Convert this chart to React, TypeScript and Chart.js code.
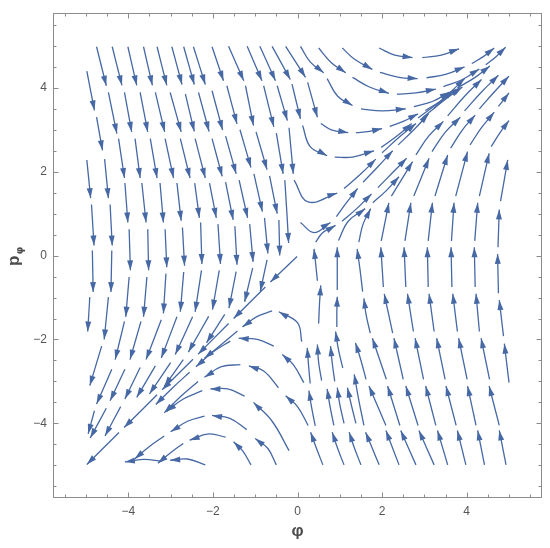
import React, { useEffect, useRef } from "react";
import { Chart, registerables } from "chart.js";

Chart.register(...registerables);

const AXIS_MIN = -5.78;
const AXIS_MAX = 5.78;
const X_TICKS = [-4, -2, 0, 2, 4];
const Y_TICKS = [-4, -2, 0, 2, 4];
const X_TITLE = "φ";
const Y_TITLE = "p";
const Y_TITLE_SUB = "φ";

// Each segment: [x0, y0, x1, y1, (x2, y2)] — arrow head at the last point.
const topLeftSegs: number[][] = [
  [-4.98, 4.4, -4.8, 3.46], [-4.75, 3.3, -4.61, 2.51], [-4.56, 2.3, -4.47, 1.37], [-4.43, 1.22, -4.38, 0.24], [-4.39, 0.12, -4.41, -0.87], [-4.47, -0.99, -4.57, -2.0],
  [-4.98, 2.28, -4.89, 1.37], [-4.87, 1.22, -4.81, 0.24], [-4.85, 0.12, -4.83, -0.87], [-4.91, -0.99, -4.96, -1.81],
  [-4.75, 4.98, -4.52, 4.05], [-4.47, 3.89, -4.27, 2.91], [-4.23, 2.79, -4.09, 1.85], [-4.08, 1.73, -4.01, 0.79], [-3.98, 0.63, -3.95, -0.35], [-3.98, -0.51, -4.06, -1.46],
  [-4.38, 4.98, -4.15, 4.06], [-4.09, 3.89, -3.92, 2.95], [-3.84, 2.79, -3.72, 1.85], [-3.68, 1.73, -3.58, 0.79], [-3.54, 0.63, -3.52, -0.35], [-3.56, -0.51, -3.64, -1.46],
  [-4.01, 4.98, -3.8, 4.06], [-3.72, 3.89, -3.54, 2.95], [-3.48, 2.79, -3.32, 1.85], [-3.25, 1.73, -3.17, 0.79], [-3.13, 0.63, -3.09, -0.28], [-3.11, -0.43, -3.17, -1.38],
  [-3.64, 4.98, -3.43, 4.06], [-3.36, 3.89, -3.14, 2.95], [-3.13, 2.79, -2.93, 1.85], [-2.85, 1.73, -2.75, 0.83], [-2.72, 0.67, -2.67, -0.24], [-2.69, -0.39, -2.77, -1.34],
  [-3.32, 4.98, -3.09, 4.06], [-3.01, 3.89, -2.75, 2.95], [-2.77, 2.79, -2.54, 1.85], [-2.43, 1.73, -2.32, 0.9], [-2.29, 0.79, -2.26, -0.2], [-2.27, -0.35, -2.42, -1.34],
  [-2.97, 4.98, -2.73, 4.08], [-2.65, 3.85, -2.44, 2.96], [-2.42, 2.79, -2.18, 1.85], [-2.08, 1.73, -1.92, 0.9], [-1.88, 0.75, -1.82, -0.2], [-1.85, -0.35, -2.01, -1.29],
  [-2.69, 4.98, -2.44, 4.08], [-2.34, 3.89, -2.09, 2.96], [-2.02, 2.79, -1.78, 1.89], [-1.7, 1.75, -1.52, 0.85], [-1.48, 0.7, -1.43, -0.22], [-1.45, -0.38, -1.62, -1.25],
  [-2.46, 4.98, -2.18, 4.08], [-2.02, 3.93, -1.77, 2.99], [-1.7, 2.85, -1.45, 1.95], [-1.38, 1.8, -1.18, 0.9], [-1.13, 0.75, -1.05, -0.15], [-1.06, -0.3, -1.25, -1.1],
  [-2.02, 4.98, -1.75, 4.17], [-1.67, 4.05, -1.43, 3.14], [-1.36, 3.0, -1.1, 2.1], [-1.03, 1.95, -0.83, 1.05], [-0.78, 0.9, -0.7, 0.05], [-0.72, -0.1, -0.88, -0.85],
];

const topMidSegs: number[][] = [
  [-1.63, 4.99, -1.27, 4.17], [-1.23, 4.05, -1.04, 3.1], [-0.98, 2.95, -0.72, 2.05], [-0.66, 1.9, -0.48, 1.0], [-0.44, 0.85, -0.42, 0.0],
  [-1.19, 4.99, -0.84, 4.17], [-0.8, 4.05, -0.56, 3.07], [-0.5, 2.92, -0.34, 1.95], [-0.3, 1.8, -0.25, 1.0, -0.21, 0.3],
  [-0.89, 4.99, -0.52, 4.17], [-0.48, 4.05, -0.24, 3.22], [-0.2, 3.05, -0.1, 1.95], [-0.08, 1.8, 0.25, 1.28, 0.94, 1.49],
  [1.1, 1.6, 1.5, 1.95, 1.85, 2.3], [2.0, 2.45, 2.4, 2.82, 2.8, 3.15], [2.95, 3.28, 3.4, 3.65, 3.85, 4.0],
  [-0.6, 4.99, -0.17, 4.2], [-0.13, 4.09, 0.07, 3.26], [0.12, 3.1, 0.3, 2.6, 0.7, 2.38], [0.88, 2.35, 1.3, 2.35, 1.81, 2.5],
  [1.98, 2.58, 2.35, 2.85, 2.7, 3.15], [2.85, 3.28, 3.3, 3.62, 3.7, 3.95],
  [-0.28, 4.99, 0.19, 4.25], [0.24, 4.13, 0.47, 3.3], [0.55, 3.15, 0.8, 3.0, 1.2, 2.93], [1.38, 2.93, 1.7, 2.96, 2.0, 3.03],
  [2.18, 3.08, 2.5, 3.2, 2.85, 3.38], [3.02, 3.46, 3.45, 3.72, 3.9, 4.02],
];

const topRightSegs: number[][] = [
  [0.07, 4.99, 0.3, 4.62, 0.62, 4.36], [0.7, 4.22, 0.95, 3.8, 1.3, 3.58], [1.5, 3.5, 2.0, 3.45, 2.56, 3.5],
  [2.75, 3.55, 3.2, 3.68, 3.6, 3.9], [3.78, 4.0, 4.2, 4.25, 4.55, 4.52],
  [0.5, 4.95, 0.8, 4.6, 1.14, 4.36], [1.3, 4.25, 1.7, 4.02, 2.16, 3.87], [2.35, 3.85, 2.8, 3.88, 3.27, 3.97],
  [3.45, 4.03, 3.9, 4.2, 4.3, 4.45], [4.45, 4.55, 4.7, 4.75, 4.92, 4.97],
  [1.06, 4.95, 1.35, 4.68, 1.77, 4.44], [1.95, 4.37, 2.4, 4.25, 2.84, 4.22], [3.05, 4.24, 3.5, 4.32, 3.95, 4.5], [4.12, 4.58, 4.4, 4.75, 4.65, 4.95],
  [1.93, 4.95, 2.3, 4.78, 2.72, 4.72], [2.95, 4.72, 3.4, 4.78, 3.82, 4.93],
  [2.8, 2.4, 3.1, 2.85, 3.45, 3.2], [3.55, 3.33, 3.95, 3.8, 4.35, 4.2],
  [3.18, 2.48, 3.5, 2.95, 3.85, 3.3], [3.95, 3.45, 4.35, 3.9, 4.75, 4.3],
  [3.62, 2.56, 3.9, 3.0, 4.2, 3.35], [4.3, 3.5, 4.65, 3.9, 5.0, 4.28],
  [4.08, 2.64, 4.35, 3.05, 4.65, 3.42], [4.75, 3.56, 4.9, 3.75, 5.0, 3.88],
  [4.58, 2.6, 4.8, 2.95, 5.0, 3.22],
];

const rightSegs: number[][] = [
  [2.25, -1.85, 2.05, -0.91], [2.03, -0.75, 1.97, 0.2], [1.98, 0.35, 2.16, 1.26], [2.22, 1.42, 2.72, 2.24],
  [2.74, -1.81, 2.6, -0.91], [2.56, -0.75, 2.52, 0.2], [2.54, 0.35, 2.68, 1.26], [2.75, 1.42, 3.11, 2.32],
  [3.23, -1.81, 3.11, -0.91], [3.09, -0.75, 3.07, 0.2], [3.09, 0.35, 3.19, 1.26], [3.25, 1.42, 3.55, 2.4],
  [3.78, -1.81, 3.67, -0.91], [3.65, -0.75, 3.63, 0.2], [3.64, 0.35, 3.7, 1.26], [3.74, 1.42, 4.02, 2.48],
  [4.3, -1.81, 4.22, -0.91], [4.2, -0.75, 4.18, 0.2], [4.19, 0.35, 4.26, 1.26], [4.3, 1.42, 4.53, 2.44],
  [5.0, -3.03, 4.89, -2.1], [4.87, -1.92, 4.77, -1.06], [4.75, -0.9, 4.73, 0.04], [4.74, 0.2, 4.77, 1.1], [4.8, 1.3, 4.97, 2.28],
];

const bottomRightSegs: number[][] = [
  [1.93, -4.99, 1.77, -4.6, 1.61, -4.21], [1.57, -4.05, 1.45, -3.45, 1.34, -2.83],
  [2.4, -4.99, 2.09, -4.17], [2.09, -4.05, 1.69, -3.11], [1.62, -2.95, 1.5, -2.5, 1.37, -2.08],
  [2.8, -4.99, 2.44, -4.17], [2.42, -4.05, 2.13, -3.11], [2.1, -2.95, 1.77, -1.97],
  [1.72, -1.85, 1.62, -1.4, 1.57, -1.02], [1.54, -0.86, 1.48, -0.35, 1.41, 0.16], [1.45, 0.32, 1.55, 0.75, 1.73, 1.12],
  [3.23, -4.99, 2.87, -4.17], [2.85, -4.05, 2.56, -3.11], [2.5, -2.95, 2.28, -1.97],
  [3.55, -4.99, 3.31, -4.17], [3.27, -4.05, 3.03, -3.11], [2.98, -2.95, 2.78, -1.97],
  [3.98, -4.99, 3.78, -4.17], [3.75, -4.05, 3.51, -3.11], [3.49, -2.95, 3.29, -1.97],
  [4.42, -4.99, 4.26, -4.17], [4.22, -4.05, 4.02, -3.11], [4.01, -2.95, 3.81, -1.97],
  [4.93, -4.99, 4.77, -4.17], [4.77, -4.05, 4.53, -3.11], [4.54, -2.95, 4.34, -1.97],
];

const centerSegs: number[][] = [
  [-0.01, -0.02, -0.64, -0.63], [-0.76, -0.75, -1.51, -1.5], [-1.63, -1.62, -2.35, -2.35], [-2.47, -2.47, -3.2, -3.2], [-3.32, -3.32, -4.1, -4.1], [-4.22, -4.22, -4.98, -4.98],
  [0.07, 0.79, 0.39, 0.55, 0.78, 0.79], [0.92, 0.93, 1.15, 1.25, 1.42, 1.6], [1.55, 1.75, 1.9, 2.12, 2.25, 2.5], [2.38, 2.64, 2.75, 3.0, 3.1, 3.38], [3.22, 3.5, 3.6, 3.88, 3.95, 4.22],
  [0.47, -0.6, 0.43, -0.2, 0.39, 0.16], [0.43, 0.32, 0.6, 0.55, 0.9, 0.72], [1.05, 0.82, 1.4, 1.12, 1.75, 1.47], [1.9, 1.62, 2.25, 1.98, 2.58, 2.32],
  [0.94, -0.82, 0.94, -0.3, 0.94, 0.2], [0.97, 0.36, 1.2, 0.82, 1.6, 1.12], [1.78, 1.26, 2.1, 1.55, 2.4, 1.88],
  [0.5, -1.62, 0.52, -1.15, 0.55, -0.71], [0.93, -1.7, 0.93, -1.35, 0.94, -0.98],
  [0.1, -2.05, 0.0, -1.6, -0.44, -1.34], [-0.6, -1.32, -0.95, -1.45, -1.3, -1.7], [-1.42, -1.8, -1.8, -2.12, -2.2, -2.45],
];

const bottomMidSegs: number[][] = [
  [0.6, -4.99, 0.45, -4.6, 0.31, -4.21], [1.1, -4.99, 0.95, -4.6, 0.82, -4.21], [1.5, -4.99, 1.35, -4.6, 1.22, -4.21],
  [0.42, -4.06, 0.33, -3.6, 0.27, -3.22], [0.86, -4.05, 0.77, -3.6, 0.7, -3.18], [1.1, -4.0, 1.0, -3.55, 0.94, -3.15], [1.38, -4.0, 1.27, -3.55, 1.18, -3.15],
  [0.3, -3.05, 0.26, -2.6, 0.23, -2.2], [0.57, -2.98, 0.5, -2.55, 0.47, -2.12], [0.88, -3.0, 0.82, -2.55, 0.78, -2.16], [1.07, -2.68, 0.97, -2.25, 0.9, -1.81],
  [0.15, -3.03, -0.1, -2.6, -0.36, -2.36], [-0.56, -2.16, -0.95, -2.0, -1.39, -1.97], [-1.59, -2.04, -2.0, -2.3, -2.4, -2.65], [-2.55, -2.78, -2.95, -3.15, -3.35, -3.55],
  [0.25, -4.05, 0.0, -3.6, -0.28, -3.34], [-0.45, -3.15, -0.8, -2.75, -1.15, -2.63], [-1.35, -2.6, -1.8, -2.65, -2.2, -2.9], [-2.35, -3.0, -2.75, -3.35, -3.15, -3.75],
  [-0.2, -4.65, -0.6, -3.95, -1.04, -3.5], [-1.25, -3.35, -1.65, -3.18, -2.06, -3.18], [-2.25, -3.22, -2.7, -3.42, -3.1, -3.72],
  [-0.5, -4.99, -0.7, -4.6, -1.0, -4.36], [-1.2, -4.15, -1.6, -3.88, -2.02, -3.81], [-2.2, -3.83, -2.6, -3.95, -3.0, -4.2], [-3.15, -4.3, -3.5, -4.55, -3.85, -4.85],
  [-1.1, -4.99, -1.3, -4.65, -1.51, -4.44], [-1.7, -4.33, -2.1, -4.25, -2.55, -4.4], [-2.7, -4.48, -3.0, -4.7, -3.3, -4.95],
];

const bottomLeftSegs: number[][] = [
  [-4.63, -2.16, -4.91, -3.1],
  [-4.09, -1.57, -4.31, -2.48], [-4.39, -2.71, -4.75, -3.54], [-4.8, -3.7, -4.95, -4.25],
  [-3.7, -1.57, -3.96, -2.48], [-4.08, -2.71, -4.43, -3.46], [-4.52, -3.64, -4.9, -4.35],
  [-3.22, -1.53, -3.58, -2.48], [-3.72, -2.67, -4.08, -3.42], [-4.18, -3.6, -4.55, -4.3],
  [-2.85, -1.46, -3.22, -2.44], [-3.36, -2.63, -3.8, -3.38],
  [-2.48, -1.46, -2.89, -2.36], [-3.0, -2.55, -3.5, -3.3],
  [-2.1, -1.45, -2.58, -2.3], [-2.7, -2.48, -3.15, -3.12],
  [-1.72, -1.4, -2.15, -2.08],
  [-2.18, -4.99, -2.6, -4.85, -3.01, -4.88], [-3.2, -4.9, -3.65, -4.86, -4.08, -4.92],
];

const LINE = "#4668a4";

function toPoints(seg: number[]) {
  const pts: { x: number; y: number }[] = [];
  for (let i = 0; i + 1 < seg.length; i += 2) pts.push({ x: seg[i], y: seg[i + 1] });
  return pts;
}

const fmt = (v: number) => (v < 0 ? "\u2212" + Math.abs(v) : String(v));

export default function App() {
  const ref = useRef<HTMLCanvasElement | null>(null);

  useEffect(() => {
    if (!ref.current) return;
    const all = [
      ...topLeftSegs, ...topMidSegs, ...topRightSegs, ...rightSegs,
      ...bottomRightSegs, ...centerSegs, ...bottomMidSegs, ...bottomLeftSegs,
    ];
    const datasets = all.map((seg) => ({
      data: toPoints(seg),
      showLine: true,
      borderColor: LINE,
      backgroundColor: LINE,
      borderWidth: 1.3,
      pointRadius: 0,
      pointHoverRadius: 0,
      tension: 0.4,
      fill: false,
    }));

    const arrows = {
      id: "arrows",
      afterDatasetsDraw(chart: any) {
        const ctx = chart.ctx;
        ctx.save();
        ctx.fillStyle = LINE;
        chart.data.datasets.forEach((_: any, i: number) => {
          const els = chart.getDatasetMeta(i).data as any[];
          const n = els.length;
          if (n < 2) return;
          const e = els[n - 1];
          const p = els[n - 2];
          let dx = e.x - (e.cp1x ?? p.x);
          let dy = e.y - (e.cp1y ?? p.y);
          if (Math.hypot(dx, dy) < 0.5) { dx = e.x - p.x; dy = e.y - p.y; }
          const a = Math.atan2(dy, dx);
          const L = 10, W = 3.0;
          const bx = e.x - L * Math.cos(a), by = e.y - L * Math.sin(a);
          ctx.beginPath();
          ctx.moveTo(e.x, e.y);
          ctx.lineTo(bx + W * Math.sin(a), by - W * Math.cos(a));
          ctx.lineTo(bx - W * Math.sin(a), by + W * Math.cos(a));
          ctx.closePath();
          ctx.fill();
        });
        ctx.restore();
      },
    };

    const frame = {
      id: "frame",
      afterDraw(chart: any) {
        const { left, right, top, bottom } = chart.chartArea;
        const ctx = chart.ctx;
        const xs = chart.scales.x, ys = chart.scales.y;
        ctx.save();
        ctx.strokeStyle = "#8c8c8c";
        ctx.lineWidth = 1;
        const L = Math.round(left) + 0.5, R = Math.round(right) - 0.5;
        const T = Math.round(top) + 0.5, B = Math.round(bottom) - 0.5;
        ctx.strokeRect(L, T, R - L, B - T);
        ctx.beginPath();
        for (let k = -11; k <= 11; k++) {
          const v = k * 0.5;
          const len = k % 4 === 0 ? 5 : 3;
          const px = Math.round(xs.getPixelForValue(v)) + 0.5;
          ctx.moveTo(px, B); ctx.lineTo(px, B - len);
          ctx.moveTo(px, T); ctx.lineTo(px, T + len);
          const py = Math.round(ys.getPixelForValue(v)) + 0.5;
          ctx.moveTo(L, py); ctx.lineTo(L + len, py);
          ctx.moveTo(R, py); ctx.lineTo(R - len, py);
        }
        ctx.stroke();
        ctx.fillStyle = "#4d4d4d";
        ctx.translate(19, (top + bottom) / 2);
        ctx.rotate(-Math.PI / 2);
        ctx.textBaseline = "alphabetic";
        ctx.font = "bold 17px 'Liberation Sans', Arial, sans-serif";
        const w = ctx.measureText(Y_TITLE).width;
        ctx.fillText(Y_TITLE, -w, 0);
        ctx.font = "bold 10px 'DejaVu Sans', sans-serif";
        ctx.fillText(Y_TITLE_SUB, 1, 4);
        ctx.restore();
      },
    };

    const chart = new Chart(ref.current, {
      type: "scatter",
      data: { datasets },
      options: {
        animation: false,
        responsive: true,
        maintainAspectRatio: false,
        events: [],
        layout: { padding: { top: 9, right: 8, left: 0, bottom: 0 } },
        plugins: { legend: { display: false }, tooltip: { enabled: false } },
        scales: {
          x: {
            type: "linear",
            min: AXIS_MIN,
            max: AXIS_MAX,
            grid: { display: false, drawTicks: false },
            border: { display: false },
            afterBuildTicks: (s: any) => { s.ticks = X_TICKS.map((v) => ({ value: v })); },
            afterFit: (s: any) => { s.height = 50; },
            ticks: {
              padding: 6,
              color: "#555555",
              font: { size: 12, family: "'Liberation Sans', Arial, sans-serif" },
              callback: (v: any) => fmt(Number(v)),
              maxRotation: 0,
            },
            title: {
              display: true,
              text: X_TITLE,
              color: "#4d4d4d",
              font: { size: 17, weight: "bold", family: "'Liberation Sans', Arial, sans-serif" },
              padding: { top: 0, bottom: 6 },
            },
          },
          y: {
            type: "linear",
            min: AXIS_MIN,
            max: AXIS_MAX,
            grid: { display: false, drawTicks: false },
            border: { display: false },
            afterBuildTicks: (s: any) => { s.ticks = Y_TICKS.map((v) => ({ value: v })); },
            afterFit: (s: any) => { s.width = 53; },
            ticks: {
              padding: 6,
              color: "#555555",
              font: { size: 12, family: "'Liberation Sans', Arial, sans-serif" },
              callback: (v: any) => fmt(Number(v)),
            },
          },
        },
      },
      plugins: [arrows, frame],
    } as any);
    return () => chart.destroy();
  }, []);

  return (
    <div style={{ position: "absolute", left: 0, top: 0, width: 550, height: 548 }}>
      <canvas ref={ref} />
    </div>
  );
}
